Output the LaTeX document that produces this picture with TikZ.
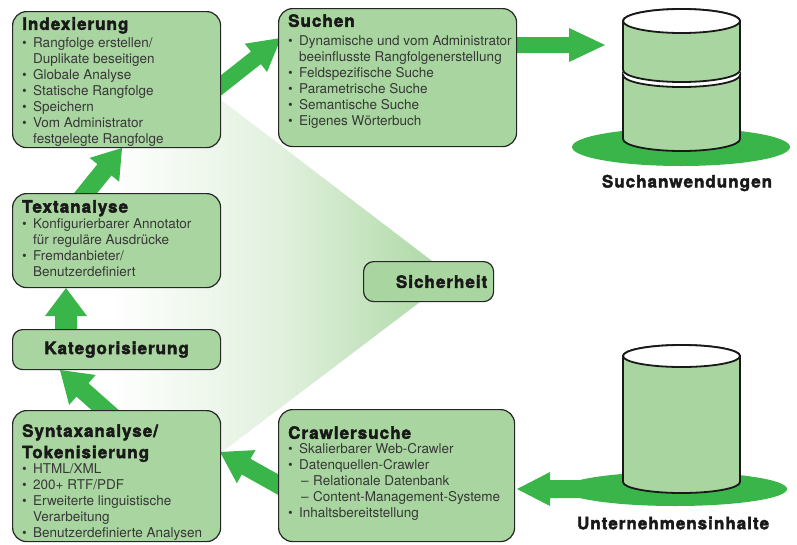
\documentclass[tikz,border=0pt]{standalone}
\usepackage{fontspec}
\setmainfont{TeX Gyre Heros}
\newfontfamily\hdfont[LetterSpace=6,BoldFeatures={FakeBold=2.5}]{TeX Gyre Heros}
\usetikzlibrary{calc}
\definecolor{boxgreen}{RGB}{169,214,160}
\definecolor{arrgreen}{RGB}{57,181,74}
\definecolor{bodytxt}{RGB}{55,55,55}
\definecolor{hdtxt}{RGB}{25,25,25}
\newcommand\hd[1]{{\hdfont\bfseries\fontsize{17}{18}\selectfont\color{hdtxt}#1}}
\newcommand\bul{\makebox[11pt][l]{\textbullet}}
\newcommand\cont{\hspace*{11pt}}
\newcommand\dsh{\hspace*{13pt}\makebox[12pt][l]{–}}
\newcommand\blockarr[5]{%
  \coordinate (H) at ($(#2)!#5!(#1)$);
  \fill[arrgreen] ($(#1)!#3!90:(#2)$) -- ($(H)!#3!90:(#2)$) -- ($(H)!#4!90:(#2)$)
    -- (#2) -- ($(H)!#4!-90:(#2)$) -- ($(H)!#3!-90:(#2)$) -- ($(#1)!#3!-90:(#2)$) -- cycle;}
\tikzset{
  box/.style={draw=black!85, line width=1.2pt, fill=boxgreen, rounded corners=14pt,
    inner sep=0pt, anchor=north west},
  smallbox/.style={box, rounded corners=10pt},
  txt/.style={inner sep=0pt, align=left, anchor=north west, text=bodytxt,
    font=\fontsize{13.5}{16}\selectfont},
  lbl/.style={inner sep=0pt, text=hdtxt},
  cyl/.style={draw=black!90, line width=1.8pt, fill=boxgreen},
}
\begin{document}
\begin{tikzpicture}[x=1pt,y=-1pt]
\useasboundingbox (0,0) rectangle (797,544);
% gradient wedge
\shade[left color=white, right color=boxgreen, middle color=boxgreen!35!white]
  (110,15) -- (453,277) -- (110,537) -- cycle;
% arrows (behind boxes)
\coordinate (a2s) at (205,98);  \coordinate (a2e) at (281,38);
\coordinate (a3s) at (76,205);  \coordinate (a3e) at (122,148);
\coordinate (a4s) at (66,340);  \coordinate (a4e) at (66,288);
\coordinate (a5s) at (122,425); \coordinate (a5e) at (60,370);
\coordinate (a6s) at (295,494); \coordinate (a6e) at (220,452);
\coordinate (a1s) at (505,45);  \coordinate (a1e) at (605,45);
\coordinate (a7s) at (600,489); \coordinate (a7e) at (517,489);
\blockarr{a2s}{a2e}{8pt}{18pt}{32pt}
\blockarr{a3s}{a3e}{9pt}{19pt}{28pt}
\blockarr{a4s}{a4e}{11pt}{21pt}{28pt}
\blockarr{a5s}{a5e}{9pt}{20pt}{30pt}
\blockarr{a6s}{a6e}{9pt}{19pt}{30pt}
\blockarr{a1s}{a1e}{8pt}{17pt}{36pt}
% ground ellipses
\fill[arrgreen] (681,147) ellipse[x radius=109pt, y radius=19pt];
\fill[arrgreen] (675,489) ellipse[x radius=112pt, y radius=17pt];
\blockarr{a7s}{a7e}{9pt}{17pt}{33pt}
% top cylinder (two segments)
\filldraw[cyl] (623,75) -- (623,139) arc[start angle=180,end angle=360,x radius=58.5pt,y radius=12pt]
  -- (740,75) arc[start angle=0,end angle=-180,x radius=58.5pt,y radius=12pt] -- cycle;
\filldraw[cyl] (623,21) -- (623,70) arc[start angle=180,end angle=360,x radius=58.5pt,y radius=12pt]
  -- (740,21) arc[start angle=0,end angle=180,x radius=58.5pt,y radius=12pt] -- cycle;
\filldraw[cyl, fill=white] (681.5,21) ellipse[x radius=58.5pt, y radius=12pt];
\node[lbl] (sa) at (687,183) {\hd{Suchanwendungen}};
% bottom cylinder
\filldraw[cyl] (623,356) -- (623,482) arc[start angle=180,end angle=360,x radius=58.5pt,y radius=11pt]
  -- (740,356) arc[start angle=0,end angle=180,x radius=58.5pt,y radius=11pt] -- cycle;
\filldraw[cyl, fill=white] (681.5,356) ellipse[x radius=58.5pt, y radius=11pt];
\node[lbl] (ui) at (673,523) {\hd{Unternehmensinhalte}};
% boxes
\node[box, minimum width=208pt, minimum height=136pt] (idx) at (12,11) {};
\node[txt] (idxt) at (22,17) {\hd{Indexierung}\\[2pt]
\bul Rangfolge erstellen/\\
\cont Duplikate beseitigen\\
\bul Globale Analyse\\
\bul Statische Rangfolge\\
\bul Speichern\\
\bul Vom Administrator\\
\cont festgelegte Rangfolge};
\node[box, minimum width=238pt, minimum height=138pt] (such) at (278,8) {};
\node[txt] (sucht) at (288,14) {\hd{Suchen}\\[3pt]
\bul Dynamische und vom Administrator\\
\cont beeinflusste Rangfolgenerstellung\\
\bul Feldspezifische Suche\\
\bul Parametrische Suche\\
\bul Semantische Suche\\
\bul Eigenes Wörterbuch};
\node[box, minimum width=208pt, minimum height=94pt] (txa) at (12,193) {};
\node[txt] (txat) at (22,200) {\hd{Textanalyse}\\[0pt]
\bul Konfigurierbarer Annotator\\
\cont für reguläre Ausdrücke\\
\bul Fremdanbieter/\\
\cont Benutzerdefiniert};
\node[smallbox, minimum width=208pt, minimum height=40pt] (kat) at (12,329) {};
\node[lbl] at (kat.center) {\hd{Kategorisierung}};
\node[box, minimum width=208pt, minimum height=131pt] (syn) at (12,410) {};
\node[txt] (synt) at (22,424) {\hd{Syntaxanalyse/}\\[4pt]\hd{Tokenisierung}\\[-1pt]
\bul HTML/XML\\
\bul 200+ RTF/PDF\\
\bul Erweiterte linguistische\\
\cont Verarbeitung\\
\bul Benutzerdefinierte Analysen};
\node[box, minimum width=236pt, minimum height=132pt] (crw) at (278,409) {};
\node[txt] (crwt) at (288,426) {\hd{Crawlersuche}\\[-1pt]
\bul Skalierbarer Web-Crawler\\
\bul Datenquellen-Crawler\\
\dsh Relationale Datenbank\\
\dsh Content-Management-Systeme\\
\bul Inhaltsbereitstellung};
\node[smallbox, minimum width=130pt, minimum height=40pt] (sich) at (363,261) {};
\node[lbl] at ([xshift=13pt]sich.center) {\hd{Sicherheit}};
\end{tikzpicture}
\end{document}
